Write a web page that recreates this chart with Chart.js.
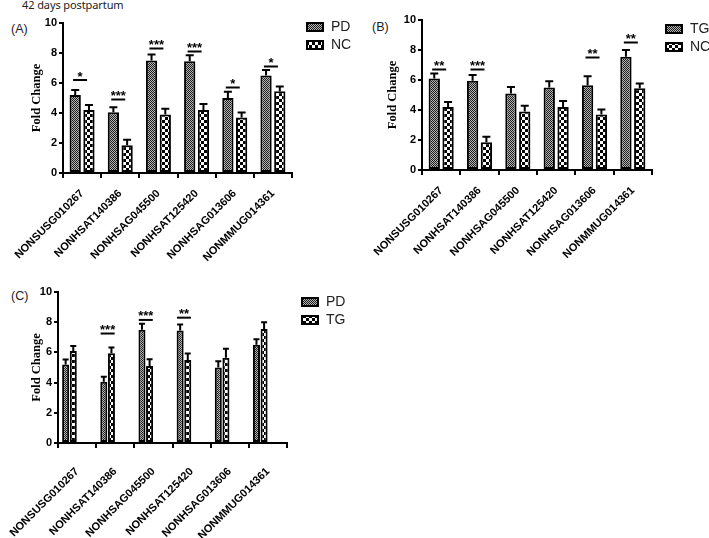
<!DOCTYPE html>
<html>
<head>
<meta charset="utf-8">
<script src="https://cdn.jsdelivr.net/npm/chart.js@4.4.0/dist/chart.umd.min.js"></script>
<style>
  body { margin: 0; background: #fff; width: 709px; height: 538px; position: relative; overflow: hidden; }
  canvas { position: absolute; }
  .lbl { position: absolute; font-family: 'Liberation Sans', Arial, sans-serif; font-size: 12.5px; color: #222; }
  #title { font-family: 'Noto Sans', 'Open Sans', sans-serif; left: 22px; top: -3px; font-size: 11px; letter-spacing: -0.1px; }
</style>
</head>
<body>
<div id="title" class="lbl">42 days postpartum</div>
<div class="lbl" style="left:11px;top:22px;">(A)</div>
<div class="lbl" style="left:372px;top:20px;">(B)</div>
<div class="lbl" style="left:11px;top:289px;">(C)</div>
<canvas id="chartA" width="360" height="270" style="left:0;top:0;"></canvas>
<canvas id="chartB" width="349" height="270" style="left:360px;top:0;"></canvas>
<canvas id="chartC" width="360" height="268" style="left:0;top:270px;"></canvas>
<script>
// Gene labels
const genes = ['NONSUSG010267', 'NONHSAT140386', 'NONHSAG045500', 'NONHSAT125420', 'NONHSAG013606', 'NONMMUG014361'];

// Fold change means and SEM
const pdValues = [5.2, 4.05, 7.5, 7.45, 5.0, 6.5];
const pdErrors = [0.33, 0.33, 0.4, 0.4, 0.42, 0.37];
const ncValues = [4.2, 1.85, 3.9, 4.2, 3.7, 5.45];
const ncErrors = [0.33, 0.37, 0.38, 0.4, 0.33, 0.32];
const tgValues = [6.1, 5.95, 5.1, 5.5, 5.65, 7.55];
const tgErrors = [0.33, 0.38, 0.44, 0.42, 0.6, 0.45];

// Significance marks and bracket heights (fold change units)
const sigA = ['*', '***', '***', '***', '*', '*'];
const sigHeightA = [6.2, 4.9, 8.3, 8.1, 5.7, 7.1];
const sigB = ['**', '***', '', '', '**', '**'];
const sigHeightB = [6.7, 6.7, null, null, 7.5, 8.5];
const sigC = ['', '***', '***', '**', '', ''];
const sigHeightC = [null, 7.25, 8.15, 8.3, null, null];

const yTicks = [0, 2, 4, 6, 8, 10];

function makePattern(size, draw) {
    const c = document.createElement('canvas');
    c.width = c.height = size;
    const g = c.getContext('2d');
    draw(g);
    return g.createPattern(c, 'repeat');
}

// fine grey texture (PD / TG in panel B)
const finePattern = makePattern(2, g => {
    g.fillStyle = '#b4b4b4';
    g.fillRect(0, 0, 2, 2);
    g.fillStyle = '#1e1e1e';
    g.fillRect(0, 0, 1, 1);
    g.fillRect(1, 1, 1, 1);
});

// coarse black/white checks (NC / TG in panel C)
const checkPattern = makePattern(6, g => {
    g.fillStyle = '#fff';
    g.fillRect(0, 0, 6, 6);
    g.fillStyle = '#000';
    g.fillRect(0, 0, 3, 3);
    g.fillRect(3, 3, 3, 3);
});

// error bars, significance brackets and legend
const overlay = {
    id: 'overlay',
    afterDatasetsDraw(chart, args, opts) {
        const ctx = chart.ctx;
        const y = chart.scales.y;
        const area = chart.chartArea;
        ctx.save();
        ctx.strokeStyle = '#000';
        ctx.fillStyle = '#000';
        ctx.lineWidth = 2;

        opts.errors.forEach((errs, di) => {
            const meta = chart.getDatasetMeta(di);
            const vals = chart.data.datasets[di].data;
            meta.data.forEach((bar, i) => {
                const top = y.getPixelForValue(vals[i]);
                const tip = y.getPixelForValue(vals[i] + errs[i]);
                ctx.beginPath();
                ctx.moveTo(bar.x, top);
                ctx.lineTo(bar.x, tip);
                ctx.moveTo(bar.x - opts.cap, tip);
                ctx.lineTo(bar.x + opts.cap, tip);
                ctx.stroke();
            });
        });

        const m0 = chart.getDatasetMeta(0).data;
        const m1 = chart.getDatasetMeta(1).data;
        ctx.font = 'bold 13px "Liberation Sans", Arial, sans-serif';
        ctx.textAlign = 'center';
        ctx.textBaseline = 'alphabetic';
        opts.sig.forEach((s, i) => {
            if (!s) return;
            const cx = (m0[i].x + m1[i].x) / 2 - opts.shift;
            const ly = y.getPixelForValue(opts.sigHeight[i]);
            ctx.beginPath();
            ctx.moveTo(cx - 7, ly);
            ctx.lineTo(cx + 7, ly);
            ctx.stroke();
            ctx.fillText(s, cx, ly + 0.5);
        });

        // legend
        ctx.font = '14px "Liberation Sans", Arial, sans-serif';
        ctx.textAlign = 'left';
        ctx.textBaseline = 'middle';
        opts.legend.forEach((name, k) => {
            const ds = chart.data.datasets[k];
            const lx = area.right + opts.legendDx;
            const ly = area.top + opts.legendDy + k * 18;
            ctx.fillStyle = ds.backgroundColor;
            ctx.fillRect(lx, ly, 16, 8);
            ctx.strokeRect(lx, ly, 16, 8);
            ctx.fillStyle = '#222';
            ctx.fillText(name, lx + 24, ly + 4.5);
        });
        ctx.restore();
    }
};

function buildChart(id, datasets, o) {
    const axisFont = { family: '"Liberation Sans", Arial, sans-serif', weight: 'bold', size: 11 };
    return new Chart(document.getElementById(id), {
        type: 'bar',
        data: { labels: genes, datasets: datasets },
        options: {
            responsive: false,
            animation: false,
            devicePixelRatio: 1,
            layout: { padding: { left: o.padLeft, top: o.padTop, right: o.padRight, bottom: 0 } },
            datasets: {
                bar: {
                    categoryPercentage: o.catPct,
                    barPercentage: o.barPct,
                    borderColor: '#000',
                    borderWidth: 2,
                    borderSkipped: false
                }
            },
            plugins: {
                legend: { display: false },
                tooltip: { enabled: false },
                overlay: o.overlay
            },
            scales: {
                x: {
                    border: { display: true, color: '#000', width: 2 },
                    grid: { drawOnChartArea: false, drawTicks: true, tickLength: 5, color: '#000', lineWidth: 2 },
                    ticks: { minRotation: 45, maxRotation: 45, autoSkip: false, color: '#000', font: axisFont, padding: o.labelPad },
                    afterFit: s => {
                        s.height = o.xHeight;
                        // labels may hang past the y axis; keep the plot where it is
                        s.paddingLeft = 0;
                        s.paddingRight = 0;
                    }
                },
                y: {
                    min: 0,
                    max: 10,
                    afterBuildTicks: s => { s.ticks = yTicks.map(v => ({ value: v })); },
                    border: { display: true, color: '#000', width: 2 },
                    grid: { drawOnChartArea: false, drawTicks: true, tickLength: 4, color: '#000', lineWidth: 2 },
                    ticks: { color: '#000', font: axisFont, padding: 2 },
                    title: {
                        display: true,
                        text: 'Fold Change',
                        color: '#000',
                        padding: 0,
                        font: { family: '"Liberation Serif", "Times New Roman", serif', weight: 'bold', size: 12.5 }
                    },
                    afterFit: s => { s.width = o.yWidth; }
                }
            }
        },
        plugins: [overlay]
    });
}

// Panel A: PD vs NC
buildChart('chartA', [
    { label: 'PD', data: pdValues, backgroundColor: finePattern },
    { label: 'NC', data: ncValues, backgroundColor: checkPattern }
], {
    padLeft: 29, padTop: 23, padRight: 68, yWidth: 34, xHeight: 97, labelPad: 9,
    catPct: 0.72, barPct: 0.82,
    overlay: { errors: [pdErrors, ncErrors], cap: 4, sig: sigA, sigHeight: sigHeightA, shift: 2,
               legend: ['PD', 'NC'], legendDx: 15, legendDy: 0 }
});

// Panel B: TG vs NC
buildChart('chartB', [
    { label: 'TG', data: tgValues, backgroundColor: finePattern },
    { label: 'NC', data: ncValues, backgroundColor: checkPattern }
], {
    padLeft: 25, padTop: 20, padRight: 57, yWidth: 37, xHeight: 100, labelPad: 9,
    catPct: 0.72, barPct: 0.82,
    overlay: { errors: [tgErrors, ncErrors], cap: 4, sig: sigB, sigHeight: sigHeightB, shift: 2,
               legend: ['TG', 'NC'], legendDx: 14, legendDy: 5 }
});

// Panel C: PD vs TG (two empty slots keep the pair left of each tick)
buildChart('chartC', [
    { label: 'PD', data: pdValues, backgroundColor: finePattern },
    { label: 'TG', data: tgValues, backgroundColor: checkPattern },
    { label: '', data: genes.map(() => null) },
    { label: '', data: genes.map(() => null) }
], {
    padLeft: 29, padTop: 22, padRight: 73, yWidth: 29, xHeight: 95, labelPad: 17,
    catPct: 0.8, barPct: 0.92,
    overlay: { errors: [pdErrors, tgErrors], cap: 3, sig: sigC, sigHeight: sigHeightC, shift: 0,
               legend: ['PD', 'TG'], legendDx: 15, legendDy: 6 }
});
</script>
</body>
</html>
